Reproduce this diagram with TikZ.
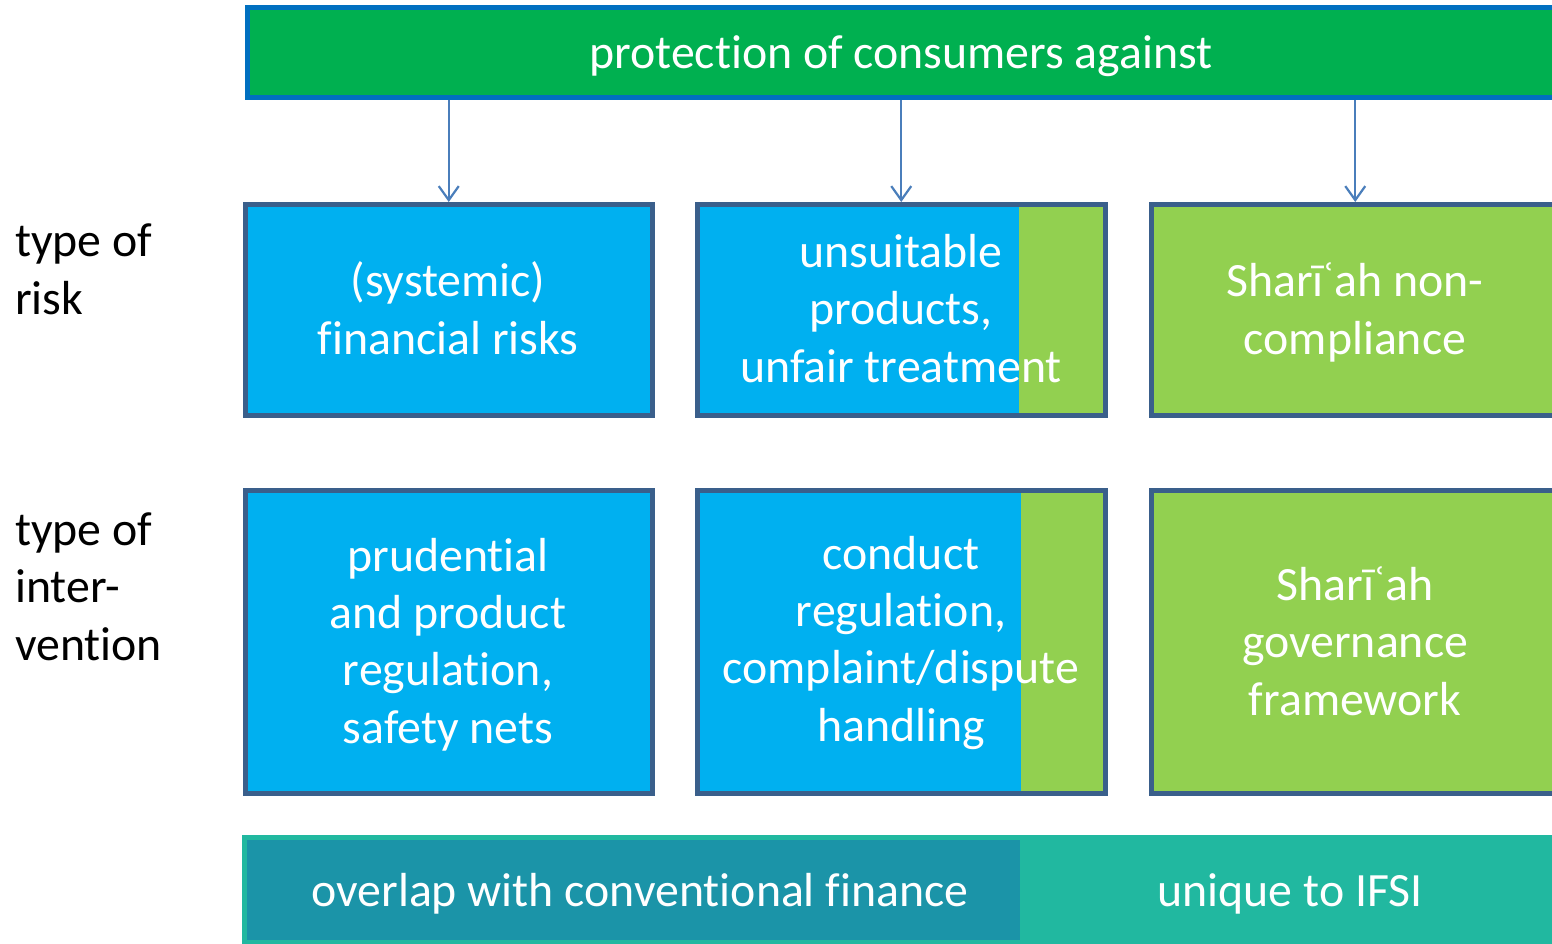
\documentclass[tikz,border=0pt]{standalone}
\usepackage{fontspec}
\setmainfont{Carlito}[Ligatures=NoCommon]
\usetikzlibrary{arrows.meta}
\definecolor{topgreen}{HTML}{00B050}
\definecolor{topblue}{HTML}{0070C0}
\definecolor{boxblue}{HTML}{00B0F0}
\definecolor{boxgreen}{HTML}{92D050}
\definecolor{edgecol}{HTML}{3A5F8B}
\definecolor{arrowcol}{HTML}{4A7EBB}
\definecolor{tealA}{HTML}{21B8A0}
\definecolor{tealB}{HTML}{1B94A8}
\begin{document}
\begin{tikzpicture}[x=1pt,y=-1pt,
  bigfont/.style={font=\fontsize{47.8}{57.3}\selectfont},
  txt/.style={bigfont, text=white, align=center, inner sep=0pt, anchor=base},
  lbl/.style={bigfont, text=black, align=left, inner sep=0pt, anchor=base west},
  boxnode/.style={draw=edgecol, line width=5pt, outer sep=0pt, inner sep=0pt,
    minimum width=407.5pt, minimum height=211pt},
  boxnodeB/.style={boxnode, minimum height=303pt},
  conn/.style={draw=arrowcol, line width=2.2pt, shorten <=2.5pt, shorten >=2.5pt,
    -{Straight Barb[length=14pt,width=20pt]}}]
\useasboundingbox (0,0) rectangle (1552,944);
\clip (0,0) rectangle (1552,944);

% top bar
\node[draw=topblue, fill=topgreen, line width=5pt, outer sep=0pt, inner sep=0pt,
  minimum width=1311.5pt, minimum height=90pt] (top) at (903.25,52.5) {};
\node[txt] (toptxt) at (901,69) {protection of consumers against};

% row 1
\node[boxnode, fill=boxblue] (r1) at (448.75,310) {};
\node[boxnode, fill=boxblue] (r2) at (901.25,310) {};
\fill[boxgreen] (1019,207) rectangle (1102.5,413);
\draw[edgecol, line width=5pt] (r2.north west) rectangle (r2.south east);
\node[boxnode, fill=boxgreen] (r3) at (1355.25,310) {};

% row 2
\node[boxnodeB, fill=boxblue] (i1) at (448.75,642) {};
\node[boxnodeB, fill=boxblue] (i2) at (901.25,642) {};
\fill[boxgreen] (1021,493) rectangle (1102.5,791);
\draw[edgecol, line width=5pt] (i2.north west) rectangle (i2.south east);
\node[boxnodeB, fill=boxgreen] (i3) at (1355.25,642) {};

% connectors
\draw[conn] (top.south -| r1.north) -- (r1.north);
\draw[conn] (top.south -| r2.north) -- (r2.north);
\draw[conn] (top.south -| r3.north) -- (r3.north);

% texts row 1 (anchor = baseline of last line)
\node[txt] (t1) at (448,354) {(systemic)\\financial risks};
\node[txt] (t2) at (901,382) {unsuitable\\products,\\unfair treatment};
\node[txt] (t3) at (1355,354) {Sharīʿah non-\\compliance};

% texts row 2
\node[txt] (u1) at (448,743) {prudential\\and product\\regulation,\\safety nets};
\node[txt] (u2) at (901,741) {conduct\\regulation,\\complaint/dispute\\handling};
\node[txt] (u3) at (1355,715) {Sharīʿah\\governance\\framework};

% left labels
\node[lbl] (l1) at (15,314) {type of\\risk};
\node[lbl] (l2) at (15,660) {type of\\inter-\\vention};

% bottom bar
\fill[tealA] (242,835) rectangle (1570,960);
\fill[tealB] (247,840) rectangle (1020,940);
\node[txt] (b1) at (640,906) {overlap with conventional finance};
\node[txt] (b2) at (1290,906) {unique to IFSI};
\end{tikzpicture}
\end{document}
